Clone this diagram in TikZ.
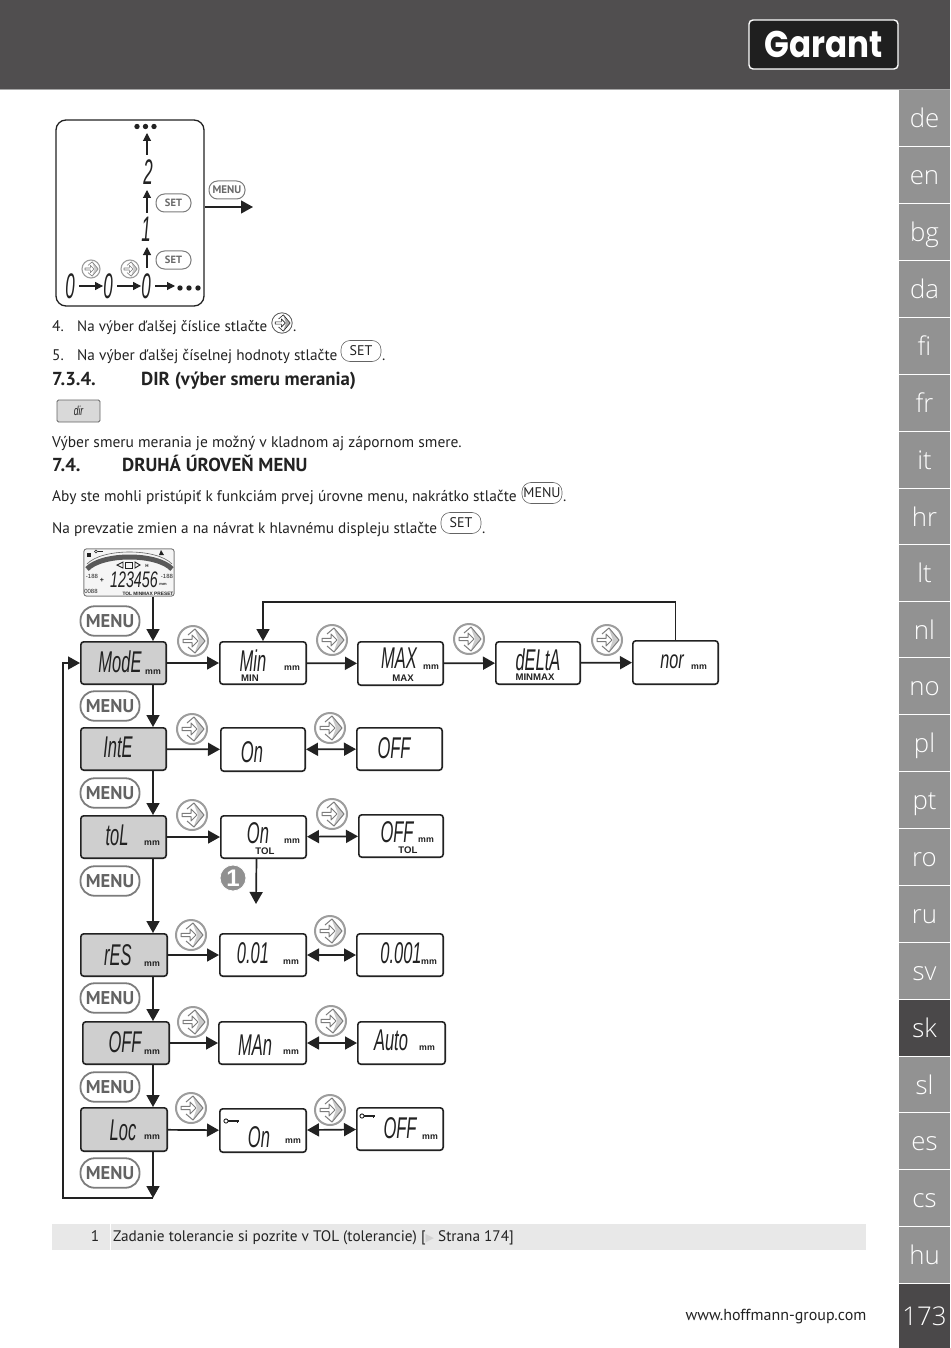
\documentclass[tikz,border=0pt]{standalone}
\usepackage{fontspec}
\usetikzlibrary{arrows.meta,calc}
\setmainfont{PT Sans}
\newfontfamily\lcdfont{Liberation Sans}
\newfontfamily\hvfont{Liberation Sans}
\newfontfamily\logofont{Poppins}
\newfontfamily\tabfont{Open Sans Light}
\newfontfamily\djv{DejaVu Sans}
\newcommand{\fs}[1]{\fontsize{#1}{#1}\selectfont}
\newcommand{\lcdt}[2][25]{\scalebox{0.66}[1.2]{\lcdfont\itshape\fontsize{#1}{#1}\selectfont #2}}
\newcommand{\lcdb}[1]{\scalebox{0.68}[1.42]{\lcdfont\itshape\fontsize{25}{25}\selectfont #1}}
\definecolor{hdr}{HTML}{504E4F}
\definecolor{tabg}{HTML}{929292}
\definecolor{tabd}{HTML}{4A4849}
\definecolor{boxg}{HTML}{CFCFCF}
\definecolor{ink}{HTML}{222222}
\definecolor{btn}{HTML}{7C7C7C}
\newcommand{\keydraw}[3]{
    \draw[draw=#1!75,line width=#2,fill=white] (0,0) circle (15pt);
    \fill[#1!40] (2,11)--(12,0)--(2,-11)--(6,0)--cycle;
    \draw[#1,line width=#3,line join=round] (-5,-6)--(2,-12)--(12,0)--(2,12)--(-5,6);
    \draw[#1,line width=#3,fill=white,line join=round] (-10,-1.6)--(-1,-1.6)--(-1,-6)--(5,0)--(-1,6)--(-1,1.6)--(-10,1.6)--cycle;
}
\tikzset{
  txt/.style={anchor=base west,inner sep=0pt,text=ink,font=\fs{15.4}},
  head/.style={txt,font=\fs{18.8}\bfseries},
  lcdbox/.style={draw=ink,line width=1.6pt,rounded corners=3pt,fill=white,inner sep=0pt},
  menubox/.style={lcdbox,fill=boxg},
  mm/.style={inner sep=0pt,font=\hvfont\bfseries\fs{8.8},text=ink},
  lab/.style={inner sep=0pt,font=\hvfont\bfseries\fs{9.6},text=ink},
  lcdtext/.style={inner sep=0pt,text=ink},
  menubtn/.style={draw=btn,line width=1.8pt,rounded corners=14pt,fill=white,minimum width=59pt,minimum height=29.5pt,inner sep=0pt,text=btn!80!black,font=\fs{18.5}\bfseries},
  smallbtn/.style={draw=btn,line width=1pt,rounded corners=8.5pt,fill=white,minimum width=35pt,minimum height=18pt,inner sep=0pt,text=btn!85!black,font=\fs{10.5}\bfseries},
  inlinebtn/.style={draw=ink!70,line width=.6pt,rounded corners=9pt,minimum width=40pt,minimum height=21pt,inner sep=0pt,text=ink,font=\fs{14}},
  arr/.style={draw=ink,line width=1.7pt,-{Triangle[length=12pt,width=13pt]}},
  arrs/.style={draw=ink,line width=1.1pt,-{Triangle[length=8pt,width=8pt]}},
  biarr/.style={draw=ink,line width=1.7pt,{Triangle[length=12pt,width=13pt]}-{Triangle[length=12pt,width=13pt]}},
  tab/.style={inner sep=0pt,anchor=base,text=white,font=\tabfont\fs{25.8}},
  pics/keyb/.style={code={\keydraw{btn}{2pt}{1pt}}},
  pics/keys/.style={code={\keydraw{btn}{1.1pt}{.6pt}}},
  pics/keyi/.style={code={\keydraw{ink}{.8pt}{.6pt}}},
}
\newcommand{\bx}[6]{\node[#1,minimum width=#5pt-#3pt-1.6pt,minimum height=#6pt-#4pt-1.6pt] (#2) at ({(#3+#5)/2},{(#4+#6)/2}) {};}
\newcommand{\lockey}[2]{\draw[ink,line width=.9pt] (#1,#2) circle (2.1pt);\draw[ink,line width=1.6pt] (#1+2.2,#2)--(#1+13,#2);\draw[ink,line width=1pt] (#1+11,#2)--(#1+11,#2+2);}
\begin{document}
\begin{tikzpicture}[x=1pt,y=-1pt]
\useasboundingbox (0,0) rectangle (950,1348);
% header
\fill[hdr] (0,0) rectangle (950,89);
\fill[gray!70] (0,89) rectangle (950,90);
\node[draw=white,line width=1.4pt,rounded corners=4pt,fill=black!88,minimum width=149pt,minimum height=49pt,inner sep=0pt] (logo) at (823.5,44.5) {};
\node[inner sep=0pt,text=white] (logotext) at (824,44) {\scalebox{.93}[1.06]{\logofont\bfseries\fs{35}Garant}};
% tabs
\foreach \lbl/\ya/\yb/\colr [count=\i] in {de/90/146/tabg,en/147/203/tabg,bg/204/260/tabg,da/261/317/tabg,fi/318/374/tabg,fr/375/431/tabg,it/432/488/tabg,hr/489/544/tabg,lt/545/601/tabg,nl/602/657/tabg,no/658/714/tabg,pl/715/771/tabg,pt/772/828/tabg,ro/829/885/tabg,ru/886/942/tabg,sv/943/999/tabg,sk/1000/1056/tabd,sl/1057/1112/tabg,es/1113/1169/tabg,cs/1170/1226/tabg,hu/1227/1283/tabg,173/1284/1348/tabd}{
  \fill[\colr] (899,\ya) rectangle (950,\yb);
  \node[tab] (tab\i) at (924.5,{(\ya+\yb)/2+9.5}) {\lbl};
}
% top sketch
\node[draw=ink,line width=1.3pt,rounded corners=10pt,fill=white,minimum width=148pt,minimum height=186pt,inner sep=0pt] (frame) at (130,213) {};
\foreach \x in {137,145.5,154}{\fill[ink] (\x,126.5) circle (2.7pt);}
\foreach \x in {180,189,198}{\fill[ink] (\x,288) circle (2.7pt);}
\node[lcdtext] (d0a) at (70,286) {\lcdb{0}};
\node[lcdtext] (d0b) at (108,286) {\lcdb{0}};
\node[lcdtext] (d0c) at (146,286) {\lcdb{0}};
\node[lcdtext] (d1) at (146,229) {\lcdb{1}};
\node[lcdtext] (d2) at (148,172) {\lcdb{2}};
\coordinate (topdots) at (147,133);
\coordinate (rdots) at (175,286);
\draw[arrs] (d0a) ++(9,0) -- (d0b.west);
\draw[arrs] (d0b) ++(9,0) -- (d0c.west);
\draw[arrs] (d0c) ++(9,0) -- (rdots);
\draw[arrs] (147,268) -- (147,247);
\draw[arrs] (147,213) -- (147,190);
\draw[arrs] (147,155) -- (topdots);
\node[smallbtn] (setA) at (173.5,203) {SET};
\node[smallbtn] (setB) at (173.5,260) {SET};
\node[smallbtn,minimum width=36pt,font=\fs{11}\bfseries] (menuS) at (227,190) {MENU};
\coordinate (out) at (253,207);
\draw[arr,line width=1.2pt] (frame.east |- out) -- (out);
\pic[scale=.6] at (91,269) {keys};
\pic[scale=.6] at (130,269) {keys};
% text
\node[txt] (t4) at (52,331) {4.};
\node[txt,font=\fs{15.05}] (t4b) at (77,331) {Na výber ďalšej číslice stlačte};
\pic[scale=.68] at (282,323) {keyi};
\node[txt] (t4c) at (293,331) {.};
\node[txt] (t5) at (52,360) {5.};
\node[txt,font=\fs{15.28}] (t5b) at (77,360) {Na výber ďalšej číselnej hodnoty stlačte};
\node[inlinebtn] (set1) at (361,351) {SET};
\node[txt] (t5c) at (382,360) {.};
\node[head] (h1) at (52,385) {7.3.4.};
\node[head] (h1b) at (141,385) {DIR (výber smeru merania)};
\node[draw=ink!70,line width=.8pt,rounded corners=1.5pt,fill=boxg!80,minimum width=43pt,minimum height=22pt,inner sep=0pt] (dirbox) at (78.5,411) {\scalebox{.85}[1.3]{\lcdfont\itshape\fs{10}\textcolor{ink}{dir}}};
\node[txt,font=\fs{15.48}] (t6) at (52,447) {Výber smeru merania je možný v kladnom aj zápornom smere.};
\node[head] (h2) at (52,471) {7.4.};
\node[head] (h2b) at (122,471) {DRUHÁ ÚROVEŇ MENU};
\node[txt] (t7) at (52,501.5) {Aby ste mohli pristúpiť k funkciám prvej úrovne menu, nakrátko stlačte};
\node[inlinebtn] (menu1) at (542,493) {MENU};
\node[txt] (t7c) at (563,501.5) {.};
\node[txt,font=\fs{15.27}] (t8) at (52,533) {Na prevzatie zmien a na návrat k hlavnému displeju stlačte};
\node[inlinebtn] (set2) at (461,523) {SET};
\node[txt] (t8c) at (482,533) {.};
% main LCD
\bx{draw=gray,line width=1pt,rounded corners=3pt,fill=gray!8,inner sep=0pt}{lcd}{83}{548}{175}{597}
\draw[ink!75,line width=5pt] (87,569) .. controls (102,553) and (157,553) .. (172,569);
\draw[ink!70,line width=.6pt] (87,564) .. controls (102,548) and (157,548) .. (172,564);
\fill[ink] (87,553) rectangle (91,557);
\draw[ink,line width=.6pt] (96,551.5) circle (1.5pt);
\draw[ink,line width=1pt] (97.5,551.5)--(103,551.5);
\fill[ink] (161,550)--(164,555)--(159,555)--cycle;
\draw[ink,line width=.9pt] (123,562)--(117,565)--(123,568)--cycle;
\draw[ink,line width=.9pt] (125,562) rectangle (132,568);
\draw[ink,line width=.9pt] (135,562)--(140,565)--(135,568)--cycle;
\node[inner sep=0pt,font=\hvfont\bfseries\fs{4.5},text=ink] (lh) at (147,566) {H};
\node[lcdtext] (big) at (134,579.5) {\scalebox{.92}[1.45]{\lcdfont\itshape\fs{15.5}123456}};
\node[inner sep=0pt,font=\hvfont\fs{6},text=ink] (lm) at (92,576) {-188};
\node[inner sep=0pt,font=\hvfont\fs{6},text=ink] (rm) at (167,576) {-188};
\node[inner sep=0pt,font=\hvfont\bfseries\fs{7},text=ink] (lp) at (102,580) {+};
\node[inner sep=0pt,font=\hvfont\fs{6},text=ink] (lb) at (91,591) {0088};
\node[inner sep=0pt,font=\hvfont\bfseries\fs{4},text=ink] (lu) at (163,584.5) {mm};
\node[inner sep=0pt,font=\hvfont\bfseries\fs{4.8},text=ink] (ltol) at (148,593.5) {TOL MINMAX PRESET};
% flow coordinates
\coordinate (sp) at (153,0);
% boxes
\bx{menubox}{mode}{80}{641}{167}{685}
\bx{lcdbox}{min}{219}{641}{307}{685}
\bx{lcdbox}{max}{357}{641}{444}{686}
\bx{lcdbox}{delta}{495}{641}{581}{685}
\bx{lcdbox}{nor}{632}{640}{719}{685}
\bx{menubox}{inte}{80}{727}{167}{771}
\bx{lcdbox}{inteon}{220}{727}{306}{772}
\bx{lcdbox}{inteoff}{356}{727}{443}{771}
\bx{menubox}{tol}{80}{815}{167}{859}
\bx{lcdbox}{tolon}{220}{815}{307}{859}
\bx{lcdbox}{toloff}{358}{814}{444}{858}
\bx{menubox}{res}{80}{933}{168}{977}
\bx{lcdbox}{resa}{219}{933}{307}{977}
\bx{lcdbox}{resb}{356}{933}{444}{977}
\bx{menubox}{off}{82}{1021}{170}{1065}
\bx{lcdbox}{man}{218}{1021}{307}{1065}
\bx{lcdbox}{auto}{357}{1021}{446}{1065}
\bx{menubox}{loc}{80}{1107}{168}{1152}
\bx{lcdbox}{locon}{219}{1108}{307}{1153}
\bx{lcdbox}{locoff}{356}{1107}{444}{1151}
% texts in boxes
\node[lcdtext] (x1) at (120,662) {\lcdt{ModE}};
\node[mm] at (153,672) (m1) {mm};
\node[lcdtext] (x2) at (253,661) {\lcdt{Min}};
\node[mm] at (292,668) (m2) {mm};
\node[lab] at (250,678) (l2) {MIN};
\node[lcdtext] (x3) at (399,658) {\lcdt{MAX}};
\node[mm] at (431,667) (m3) {mm};
\node[lab] at (403,678) (l3) {MAX};
\node[lcdtext] (x4) at (538,660) {\lcdt{dELtA}};
\node[lab] at (535,677) (l4) {MINMAX};
\node[lcdtext] (x5) at (672,662) {\lcdt[17]{\scalebox{1.45}[1.25]{nor}}};
\node[mm] at (699,667) (m5) {mm};
\node[lcdtext] (x6) at (118,747) {\lcdt{IntE}};
\node[lcdtext] (x7) at (252,752) {\lcdt{On}};
\node[lcdtext] (x8) at (394,748) {\lcdt{OFF}};
\node[lcdtext] (x9) at (117,835) {\lcdt{toL}};
\node[mm] at (152,843) (m9) {mm};
\node[lcdtext] (x10) at (258,833) {\lcdt{On}};
\node[mm] at (292,841) (m10) {mm};
\node[lab] at (265,851) (l10) {TOL};
\node[lcdtext] (x11) at (397,832) {\lcdt{OFF}};
\node[mm] at (426,840) (m11) {mm};
\node[lab] at (408,850) (l11) {TOL};
\node[lcdtext] (x12) at (118,955) {\lcdt{rES}};
\node[mm] at (152,964) (m12) {mm};
\node[lcdtext] (x13) at (253,953) {\lcdt{0.01}};
\node[mm] at (291,962) (m13) {mm};
\node[lcdtext] (x14) at (401,953) {\lcdt{0.001}};
\node[mm] at (429,962) (m14) {mm};
\node[lcdtext] (x15) at (125,1042) {\lcdt{OFF}};
\node[mm] at (152,1052) (m15) {mm};
\node[lcdtext] (x16) at (255,1045) {\lcdt{MAn}};
\node[mm] at (291,1052) (m16) {mm};
\node[lcdtext] (x17) at (391,1040) {\lcdt{Auto}};
\node[mm] at (427,1048) (m17) {mm};
\node[lcdtext] (x18) at (123,1130) {\lcdt{Loc}};
\node[mm] at (152,1137) (m18) {mm};
\node[lcdtext] (x19) at (259,1137) {\lcdt{On}};
\node[mm] at (293,1141) (m19) {mm};
\node[lcdtext] (x20) at (400,1128) {\lcdt{OFF}};
\node[mm] at (430,1137) (m20) {mm};
\lockey{226}{1121}
\lockey{362}{1116}
% vertical connectors
\draw[arr] (lcd.south -| sp) -- (mode.north -| sp);
\draw[arr] (mode.south -| sp) -- (inte.north -| sp);
\draw[arr] (inte.south -| sp) -- (tol.north -| sp);
\draw[arr] (tol.south -| sp) -- (res.north -| sp);
\draw[arr] (res.south -| sp) -- (off.north -| sp);
\draw[arr] (off.south -| sp) -- (loc.north -| sp);
\coordinate (bot) at (153,1198);
\coordinate (botl) at (63,1198);
\draw[arr] (loc.south -| sp) -- (bot);
\draw[arr] (bot) -- (botl) -- (botl |- mode.west) -- (mode.west);
% horizontal connectors
\draw[arr] (mode) -- (min);
\draw[arr] (min) -- (max);
\draw[arr] (max) -- (delta);
\draw[arr] (delta) -- (nor);
\draw[arr] (nor.north) -- ++(0,-38) -| (min.north);
\draw[arr] (inte) -- (inteon);
\draw[biarr] (inteon) -- (inteoff);
\draw[arr] (tol) -- (tolon);
\draw[biarr] (tolon) -- (toloff);
\draw[arr] (res) -- (resa);
\draw[biarr] (resa) -- (resb);
\draw[arr] (off) -- (man);
\draw[biarr] (man) -- (auto);
\draw[arr] (loc) -- (locon);
\draw[biarr] (locon) -- (locoff);
\coordinate (note) at (256,904);
\draw[arr] ([xshift=-7]tolon.south) -- (note);
\node[circle,fill=btn!85,draw=white,line width=.8pt,minimum size=26pt,inner sep=0pt,text=white,font=\hvfont\bfseries\fs{24}] (one) at (233,878) {1};
% menu buttons
\foreach \nm/\y in {mb1/621,mb2/706,mb3/793,mb4/881,mb5/998,mb6/1087,mb7/1173}{
  \node[menubtn] (\nm) at (110,\y) {MENU};
}
% nav icons
\foreach \x/\y in {193/641,332/640,469/639,607/640,192/729,330/728,192/815,332/814,191/935,330/931,193/1022,331/1021,191/1108,330/1110}{
  \pic at (\x,\y) {keyb};
}
% note bar
\fill[gray!18] (52,1224) rectangle (866,1250);
\fill[white] (109.5,1224) rectangle (111,1250);
\node[txt,anchor=base] (n1) at (95,1241.5) {1};
\node[txt,font=\fs{15.25}] (n2) at (113,1241.5) {Zadanie tolerancie si pozrite v TOL (tolerancie) [\textcolor{gray!35}{\djv\fs{11}▶} Strana 174]};
\node[txt,anchor=base east,font=\fs{16}] (web) at (866.5,1320) {www.hoffmann-group.com};
\end{tikzpicture}
\end{document}
